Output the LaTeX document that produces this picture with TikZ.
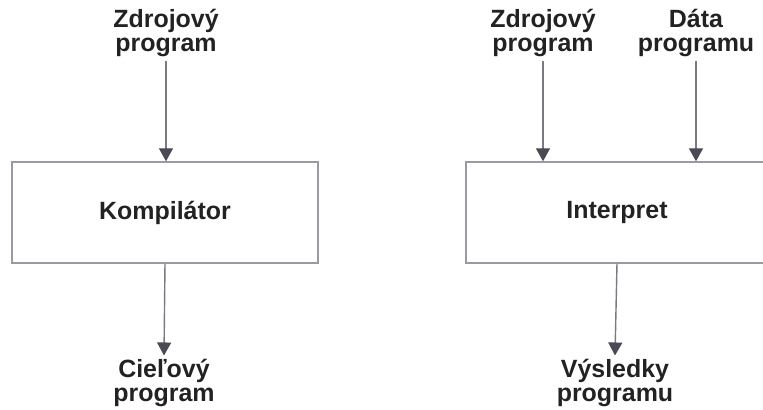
\documentclass[tikz,border=0pt]{standalone}
\usepackage{fontspec}
\setmainfont{Liberation Sans}
\usepackage{tikz}
\usetikzlibrary{arrows.meta}
\definecolor{boxgray}{HTML}{9A9AA2}
\definecolor{linegray}{HTML}{7A7A82}
\definecolor{tipgray}{HTML}{4A4A55}
\definecolor{textdark}{HTML}{222222}

\begin{document}
\begin{tikzpicture}[
		blok/.style={draw=boxgray, line width=0.8pt, minimum height=2.02cm, align=center, text=textdark, font=\fontsize{14.2}{13.5}\selectfont\bfseries},
		popis/.style={align=center, text=textdark, inner sep=2pt, font=\fontsize{14.2}{13.5}\selectfont\bfseries},
		sipka/.style={-{Triangle[width=0.28cm,length=0.26cm,color=tipgray]}, color=linegray, line width=0.8pt}
	]

	\useasboundingbox (0,0) rectangle (15.26,8.2);

	% kompilator
	\node[blok, minimum width=6.12cm] (komp) at (3.30,3.95) {Kompilátor};
	\node[popis] (zdroj1) at (3.32,7.54) {Zdrojový\\program};
	\node[popis] (ciel) at (3.28,0.54) {Cieľový\\program};

	\draw[sipka] (zdroj1.south) -- (zdroj1.south |- komp.north);
	\draw[sipka] (komp.south) -- (ciel.north);

	% interpret
	\node[blok, minimum width=6.04cm] (interp) at (12.34,3.95) {Interpret};
	\node[popis] (zdroj2) at (10.86,7.54) {Zdrojový\\program};
	\node[popis] (data) at (13.92,7.54) {Dáta\\programu};
	\node[popis] (vysl) at (12.30,0.54) {Výsledky\\programu};

	\draw[sipka] (zdroj2.south) -- (zdroj2.south |- interp.north);
	\draw[sipka] (data.south) -- (data.south |- interp.north);
	\draw[sipka] (interp.south) -- (vysl.north);

\end{tikzpicture}
\end{document}
